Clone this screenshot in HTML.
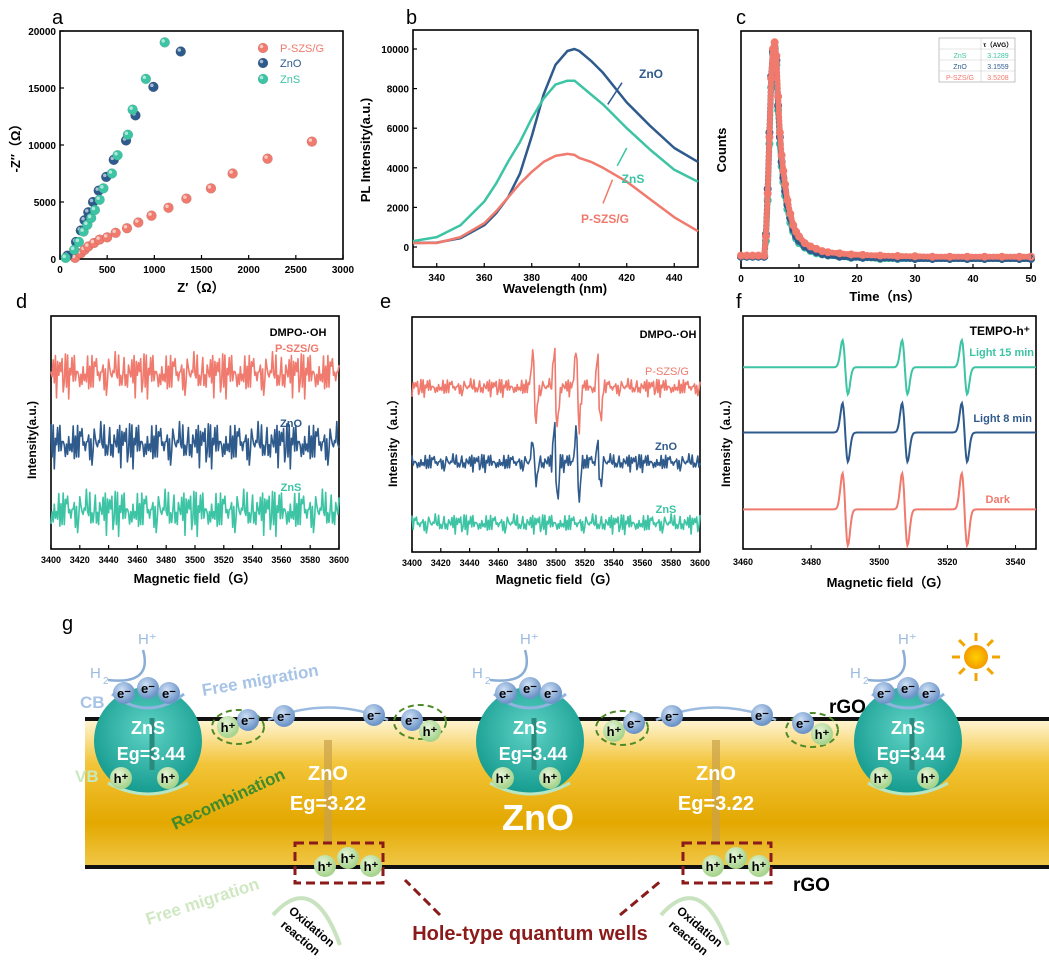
<!DOCTYPE html>
<html><head><meta charset="utf-8"><style>
body{margin:0;background:#fff;}
svg{display:block;font-family:"Liberation Sans",Arial,sans-serif;}
</style></head><body>
<svg id="fig" width="1049" height="968" viewBox="0 0 1049 968">
<defs>
<linearGradient id="gold" x1="0" y1="0" x2="0" y2="1">
<stop offset="0" stop-color="#fff6d8"/><stop offset="0.3" stop-color="#f3c53a"/><stop offset="0.7" stop-color="#e3a800"/><stop offset="1" stop-color="#f1c84a"/></linearGradient>
<radialGradient id="teal" cx="0.5" cy="0.4" r="0.6"><stop offset="0" stop-color="#5fd3c6"/><stop offset="1" stop-color="#149a8e"/></radialGradient>
<radialGradient id="sun" cx="0.5" cy="0.5" r="0.5"><stop offset="0" stop-color="#ffd000"/><stop offset="1" stop-color="#f29b00"/></radialGradient>
<radialGradient id="bp" cx="0.4" cy="0.35" r="0.6"><stop offset="0" stop-color="#cfe0f5"/><stop offset="1" stop-color="#6d95c8"/></radialGradient>
<radialGradient id="gp" cx="0.4" cy="0.35" r="0.6"><stop offset="0" stop-color="#e6f5d9"/><stop offset="1" stop-color="#a8d48e"/></radialGradient>
</defs>
<g id="charts"></g>
<g id="schematic"></g>
</svg>
<script>
// ---------- data ----------
const eisZnSX=[60,150,200,250,290,330,370,420,460,550,610,720,770,910,1110];
const eisZnSY=[100,800,1500,2400,3000,3600,4300,5200,6200,7500,9100,10900,13100,15800,19000];
const eisZnOX=[80,170,220,260,300,350,410,490,570,700,800,990,1280];
const eisZnOY=[300,1500,2500,3400,4100,5000,6000,7200,8700,10400,12600,15100,18200];
const eisPX=[160,220,260,300,360,420,500,590,710,830,970,1150,1340,1600,1830,2200,2670];
const eisPY=[100,500,800,1100,1400,1700,1900,2300,2700,3200,3800,4500,5300,6200,7500,8800,10300];
const plWl=[330,340,350,360,365,370,375,380,385,390,395,398,400,405,410,420,430,440,450];
const plZnO=[200,220,450,1100,1700,2500,3700,5600,7700,9200,9900,10000,9900,9400,8800,7300,6100,5000,4300];
const plZnS=[300,500,1100,2300,3200,4300,5300,6500,7500,8200,8400,8400,8200,7700,7200,6000,4900,3900,3300];
const plP=[200,200,500,1200,1800,2500,3200,3800,4300,4600,4700,4650,4500,4300,4000,3300,2400,1500,800];
const trT=[0,1,2,3,4,4.3,4.6,4.9,5.2,5.5,5.8,6.1,6.4,6.7,7,7.3,7.6,8,8.5,9,9.5,10,11,12,13,14,15,17,19,21,24,27,30,33,36,39,42,45,48,50];
const trZnS=[0.05,0.05,0.05,0.05,0.05,0.12,0.3,0.55,0.8,0.95,0.98,0.9,0.7,0.55,0.45,0.38,0.32,0.26,0.2,0.16,0.13,0.11,0.09,0.075,0.065,0.06,0.055,0.05,0.045,0.045,0.04,0.04,0.04,0.04,0.04,0.04,0.04,0.04,0.04,0.04];
const trZnO=[0.05,0.05,0.05,0.05,0.05,0.15,0.35,0.6,0.85,0.96,0.97,0.92,0.72,0.58,0.47,0.4,0.34,0.28,0.22,0.17,0.14,0.12,0.095,0.08,0.07,0.062,0.057,0.05,0.047,0.045,0.043,0.042,0.04,0.04,0.04,0.04,0.04,0.04,0.04,0.04];
const trP=[0.055,0.055,0.055,0.055,0.055,0.14,0.33,0.58,0.84,0.97,1.0,0.94,0.76,0.6,0.5,0.43,0.37,0.3,0.24,0.19,0.16,0.14,0.11,0.095,0.085,0.075,0.07,0.065,0.06,0.058,0.055,0.053,0.052,0.05,0.05,0.05,0.05,0.05,0.05,0.05];
const noise=[3,-5,7,-2,9,-8,4,-6,10,-3,5,-9,2,8,-4,6,-10,3,-7,9,-1,5,-8,7,-5,2,-9,6,-3,10,-6,4,-2,8,-7,3,-4,9,-10,5,-1,7,-6,2,-8,6,-3,9,-5,4,-9,1,8,-2,6,-7,3,-5,10,-4,-3,6,-1,4,-8,2,7,-5,1,-6,9];
const dBase=[75,45,16];
const dNames=["P-SZS/G","ZnO","ZnS"];
const eBase=[70,38,12];
const ePeaksG=[3485,3500,3515,3530];
const ePAmp=[17,19,19,16];
const eOAmp=[9,17,17,9];
const fBase=[78,50,17];
const fPeaksG=[3490,3507.5,3525];
const fAmp=[12,13,16];
const fNames=["Light 15 min","Light 8 min","Dark"];
const RED="#ef7a6d",BLUE="#2f5a8c",TEAL="#3dc4a4";

const NS="http://www.w3.org/2000/svg";
const root=document.getElementById('charts');
function mk(tag,attrs,parent,text){const e=document.createElementNS(NS,tag);for(const k in attrs)e.setAttribute(k,attrs[k]);if(text!==undefined)e.textContent=text;(parent||root).appendChild(e);return e;}
function lin(d0,d1,r0,r1){return v=>r0+(v-d0)/(d1-d0)*(r1-r0);}
function frame(x0,y0,x1,y1,name){const r=mk('rect',{x:x0,y:y0,width:x1-x0,height:y1-y0,fill:'none',stroke:'#000','stroke-width':1.6});}
function xticks(sx,vals,y,lab,fs){vals.forEach(v=>{mk('line',{x1:sx(v),x2:sx(v),y1:y,y2:y-4,stroke:'#000','stroke-width':1.2});if(lab){const t=mk('text',{x:sx(v),y:y+14,'font-size':fs||10,'font-weight':'bold','text-anchor':'middle'},root,v);}});}
function yticks(sy,vals,x){vals.forEach(v=>{mk('line',{x1:x,x2:x+4,y1:sy(v),y2:sy(v),stroke:'#000','stroke-width':1.2});const t=mk('text',{x:x-4,y:sy(v)+4,'font-size':10,'font-weight':'bold','text-anchor':'end'},root,v);});}
function label(x,y,s,txt,name,extra){const a=Object.assign({x:x,y:y,'font-size':s,'text-anchor':'middle','font-weight':'bold'},extra||{});const t=mk('text',a,root,txt);return t;}
function panelLetter(x,y,l){const t=mk('text',{x:x,y:y,'font-size':20},root,l);}
function ball(cx,cy,col,r){mk('circle',{cx:cx,cy:cy,r:r||5,fill:col,stroke:'rgba(0,0,0,0.15)','stroke-width':0.5});mk('circle',{cx:cx-1.5,cy:cy-1.5,r:(r||5)*0.35,fill:'rgba(255,255,255,0.6)'});}

// ---------- panel a ----------
(function(){const sx=lin(0,3000,60,343),sy=lin(0,20000,259,31);
panelLetter(52,24,'a');frame(60,31,343,259,'plot-a-frame');
xticks(sx,[0,500,1000,1500,2000,2500,3000],259,true);yticks(sy,[0,5000,10000,15000,20000],60);
label(201,292,13,"Z′（Ω）",'x-axis-title-a');
label(20,145,13,"-Z′′（Ω）",'y-axis-title-a',{transform:'rotate(-90 20 145)'});
eisPX.forEach((v,i)=>ball(sx(v),sy(eisPY[i]),RED));
eisZnOX.forEach((v,i)=>ball(sx(v),sy(eisZnOY[i]),BLUE));
eisZnSX.forEach((v,i)=>ball(sx(v),sy(eisZnSY[i]),TEAL));
[["P-SZS/G",RED,52],["ZnO",BLUE,67],["ZnS",TEAL,83]].forEach(l=>{ball(263,l[2]-4,l[1]);const t=mk('text',{x:280,y:l[2],'font-size':11,fill:l[1]},root,l[0]);});
})();

// ---------- panel b ----------
(function(){const sx=lin(330,450,413,698),sy=lin(0,10000,247,49);
panelLetter(406,24,'b');frame(413,30,698,267,'plot-b-frame');
xticks(sx,[340,360,380,400,420,440],267,true);yticks(sy,[0,2000,4000,6000,8000,10000],413);
label(555,293,13,"Wavelength (nm)",'x-axis-title-b');
label(370,150,13,"PL Intensity(a.u.)",'y-axis-title-b',{transform:'rotate(-90 370 150)'});
function curve(vals,col,n){const p=mk('path',{d:vals.map((v,i)=>(i?'L':'M')+sx(plWl[i]).toFixed(1)+','+sy(v).toFixed(1)).join(''),fill:'none',stroke:col,'stroke-width':2.5,'stroke-linejoin':'round'});}
curve(plZnO,BLUE,'zno');curve(plZnS,TEAL,'zns');curve(plP,RED,'psz');
mk('line',{x1:sx(412),y1:sy(7200),x2:sx(418),y2:sy(8300),stroke:BLUE,'stroke-width':1.5});label(651,78,12,"ZnO",'label-zno-b',{fill:BLUE});
mk('line',{x1:sx(420),y1:sy(5000),x2:sx(416),y2:sy(4100),stroke:TEAL,'stroke-width':1.5});label(633,183,12,"ZnS",'label-zns-b',{fill:TEAL});
mk('line',{x1:sx(414),y1:sy(3400),x2:sx(410),y2:sy(2200),stroke:RED,'stroke-width':1.5});label(605,223,12,"P-SZS/G",'label-p-b',{fill:RED});
})();

// ---------- panel c ----------
(function(){const sx=lin(0,50,741,1031),sy=lin(0,1.05,268,31);
panelLetter(736,24,'c');frame(741,31,1031,268,'plot-c-frame');
xticks(sx,[0,10,20,30,40,50],268,true);
label(726,150,13,"Counts",'y-axis-title-c',{transform:'rotate(-90 726 150)'});
label(885,301,13,"Time（ns）",'x-axis-title-c');
[[trZnS,TEAL],[trZnO,BLUE],[trP,RED]].forEach(s=>{s[0].forEach((v,i)=>{mk('circle',{cx:sx(trT[i]),cy:sy(v),r:3,fill:'none',stroke:s[1],'stroke-width':2});});
for(let i=0;i<trT.length-1;i++){mk('line',{x1:sx(trT[i]),y1:sy(s[0][i]),x2:sx(trT[i+1]),y2:sy(s[0][i+1]),stroke:s[1],'stroke-width':6,'stroke-dasharray':'1 3','stroke-linecap':'round'});}});
const tb=mk('g',{});
mk('rect',{x:939,y:38,width:76,height:44,fill:'#fff',stroke:'#aaa','stroke-width':0.7},tb);
[49,60,71].forEach(y=>mk('line',{x1:939,x2:1015,y1:y,y2:y,stroke:'#ccc','stroke-width':0.6},tb));
mk('line',{x1:981,x2:981,y1:38,y2:82,stroke:'#ccc','stroke-width':0.6},tb);
mk('text',{x:998,y:47,'font-size':6.5,'text-anchor':'middle','font-weight':'bold'},tb,"τ（AVG）");
[["ZnS","3.1289",TEAL,58],["ZnO","3.1559",BLUE,69],["P-SZS/G","3.5208",RED,80]].forEach(r=>{mk('text',{x:960,y:r[3],'font-size':7,'text-anchor':'middle',fill:r[2]},tb,r[0]);mk('text',{x:998,y:r[3],'font-size':7,'text-anchor':'middle',fill:r[2]},tb,r[1]);});
})();

// ---------- noisy EPR helper ----------
function noisy(sx,sy,g0,g1,base,amp,col,name,peaks,shift){let d='';const n=260;const L=noise.length;for(let i=0;i<=n;i++){const g=g0+(g1-g0)*i/n;const k=i+(shift||0);let v=base+(noise[k%L]*0.6+noise[(k*7+3)%L]*0.4)*amp;if(peaks)peaks.forEach(pk=>{const dx=g-pk.g;if(Math.abs(dx)<3)v+=pk.a*(dx<0?1:-1)*Math.max(0,1-Math.abs(Math.abs(dx)-1)/2);});d+=(i?'L':'M')+sx(g).toFixed(1)+','+sy(v).toFixed(1);}
const p=mk('path',{d:d,fill:'none',stroke:col,'stroke-width':1.6,'stroke-linejoin':'round'});}
const eprTicks=[3400,3420,3440,3460,3480,3500,3520,3540,3560,3580,3600];

// ---------- panel d ----------
(function(){const sx=lin(3400,3600,51,339),sy=lin(0,100,549,316);
panelLetter(16,308,'d');frame(51,316,339,549,'plot-d-frame');
xticks(sx,eprTicks,549,true,9);
label(195,583,13,"Magnetic field（G）",'x-axis-title-d');
label(36,440,12,"Intensity(a.u.)",'y-axis-title-d',{transform:'rotate(-90 36 440)'});
label(298,336,11,"DMPO-·OH",'annotation-d');
[RED,BLUE,TEAL].forEach((c,i)=>noisy(sx,sy,3400,3600,dBase[i],1.15,c,'epr-d-'+dNames[i],null,i*13));
label(297,352,11,"P-SZS/G",'label-p-d',{fill:RED});
label(291,427,11,"ZnO",'label-zno-d',{fill:BLUE});
label(291,491,11,"ZnS",'label-zns-d',{fill:TEAL});
})();

// ---------- panel e ----------
(function(){const sx=lin(3400,3600,412,700),sy=lin(0,100,552,317);
panelLetter(380,308,'e');frame(412,317,700,552,'plot-e-frame');
xticks(sx,eprTicks,552,true,9);
label(557,584,13,"Magnetic field（G）",'x-axis-title-e');
label(397,440,12,"Intensity（a.u.）",'y-axis-title-e',{transform:'rotate(-90 397 440)'});
label(668,338,11,"DMPO-·OH",'annotation-e');
noisy(sx,sy,3400,3600,eBase[0],0.45,RED,'epr-e-p',ePeaksG.map((g,i)=>({g:g,a:ePAmp[i]})),5);
noisy(sx,sy,3400,3600,eBase[1],0.45,BLUE,'epr-e-zno',ePeaksG.map((g,i)=>({g:g,a:eOAmp[i]})),21);
noisy(sx,sy,3400,3600,eBase[2],0.5,TEAL,'epr-e-zns',null,37);
label(667,375,11,"P-SZS/G",'label-p-e',{fill:RED,'font-weight':'normal'});
label(666,450,11,"ZnO",'label-zno-e',{fill:BLUE});
label(666,513,11,"ZnS",'label-zns-e',{fill:TEAL});
})();

// ---------- panel f ----------
(function(){const sx=lin(3460,3546,743,1036),sy=lin(0,100,549,316);
panelLetter(736,308,'f');frame(743,316,1036,549,'plot-f-frame');
[3460,3480,3500,3520,3540].forEach(v=>{mk('line',{x1:sx(v),x2:sx(v),y1:549,y2:545,stroke:'#000'});const t=mk('text',{x:sx(v),y:565,'font-size':9,'font-weight':'bold','text-anchor':'middle'},root,v);});
label(888,587,13,"Magnetic field（G）",'x-axis-title-f');
label(730,440,12,"Intensity（a.u.）",'y-axis-title-f',{transform:'rotate(-90 730 440)'});
label(1030,335,12,"TEMPO-h⁺",'annotation-f',{'text-anchor':'end'});
[TEAL,BLUE,RED].forEach((c,i)=>{let d='';for(let k=0;k<=344;k++){const g=3460+k*0.25;let v=fBase[i];fPeaksG.forEach(pk=>{const x=(g-pk)/0.8;v+=fAmp[i]*(-x*Math.exp(-x*x/2))*1.6;});d+=(k?'L':'M')+sx(g).toFixed(1)+','+sy(v).toFixed(1);}const p=mk('path',{d:d,fill:'none',stroke:c,'stroke-width':2});
label([1034,1032,1010][i],[356,422,503][i],11,fNames[i],'label-f',{fill:c,'text-anchor':'end'});});
})();

// ---------- schematic g ----------
(function(){const g=document.getElementById('schematic');
function el(tag,a,txt){return mk(tag,a,g,txt);}
el('text',{x:62,y:630,'font-size':20},'g');
el('rect',{x:85,y:719,width:964,height:148,fill:'url(#gold)'});
el('line',{x1:85,x2:1049,y1:719,y2:719,stroke:'#111','stroke-width':4});
el('line',{x1:85,x2:1049,y1:867,y2:867,stroke:'#111','stroke-width':4});
el('text',{x:829,y:713,'font-size':19,'font-weight':'bold'},'rGO');
el('text',{x:793,y:891,'font-size':19,'font-weight':'bold'},'rGO');
el('text',{x:538,y:830,'font-size':36,'font-weight':'bold',fill:'#fff','text-anchor':'middle'},'ZnO');
const sg=el('g',{});
for(let i=0;i<8;i++){const a=i*Math.PI/4;mk('line',{x1:976+Math.cos(a)*16,y1:657+Math.sin(a)*16,x2:976+Math.cos(a)*24,y2:657+Math.sin(a)*24,stroke:'#f0a500','stroke-width':3},sg);}
mk('circle',{cx:976,cy:657,r:12,fill:'url(#sun)'},sg);
function pe(x,y,t,grad,r){el('circle',{cx:x,cy:y,r:r||11,fill:grad});el('text',{x:x,y:y+5,'font-size':13,'font-weight':'bold','text-anchor':'middle'},t);}
[148,530,908].forEach((cx,k)=>{
el('circle',{cx:cx,cy:741,r:54,fill:'url(#teal)'});
el('path',{d:`M${cx-36},${694} Q${cx},${722} ${cx+36},${694}`,fill:'none',stroke:'#8fb5de','stroke-width':3});
el('path',{d:`M${cx-40},${783} Q${cx},${805} ${cx+40},${783}`,fill:'none',stroke:'#b8e5c4','stroke-width':3});
el('line',{x1:cx+4,y1:770,x2:cx+4,y2:718,stroke:'#2a8a7e','stroke-width':5});
el('text',{x:cx,y:734,'font-size':18,'font-weight':'bold',fill:'#fff','text-anchor':'middle'},'ZnS');
el('text',{x:cx+3,y:760,'font-size':18,'font-weight':'bold',fill:'#fff','text-anchor':'middle'},'Eg=3.44');
pe(cx-24,693,'e⁻','url(#bp)');pe(cx,688,'e⁻','url(#bp)');pe(cx+21,693,'e⁻','url(#bp)');
pe(cx-27,778,'h⁺','url(#gp)');pe(cx+20,778,'h⁺','url(#gp)');
el('text',{x:cx-58,y:678,'font-size':15,fill:'#9bbbe0'},'H');el('text',{x:cx-45,y:684,'font-size':10,fill:'#9bbbe0'},'2');
el('text',{x:cx-10,y:644,'font-size':15,fill:'#9bbbe0'},'H⁺');
el('path',{d:`M${cx-5},${650} Q${cx+5},${685} ${cx-40},${680}`,fill:'none',stroke:'#8aaed6','stroke-width':2.5});
});
el('text',{x:80,y:708,'font-size':17,'font-weight':'bold',fill:'#a7c4e6'},'CB');
el('text',{x:75,y:782,'font-size':17,'font-weight':'bold',fill:'#c8e8c0'},'VB');
el('text',{x:203,y:696,'font-size':17,'font-weight':'bold',fill:'#a7c4e6',transform:'rotate(-10 203 696)'},'Free migration');
el('text',{x:175,y:830,'font-size':17,'font-weight':'bold',fill:'#3f8a2a',transform:'rotate(-25 175 830)'},'Recombination');
el('text',{x:148,y:925,'font-size':17,'font-weight':'bold',fill:'#cfe8c2',transform:'rotate(-18 148 925)'},'Free migration');
[328,716].forEach(cx=>{
el('line',{x1:cx,y1:842,x2:cx,y2:740,stroke:'#caa24a','stroke-width':8,opacity:0.7});
el('path',{d:`M${cx-60},${720} Q${cx},${695} ${cx+60},${720}`,fill:'none',stroke:'#9bbbe0','stroke-width':2.5});
pe(cx-44,716,'e⁻','url(#bp)');pe(cx+46,715,'e⁻','url(#bp)');
el('text',{x:cx,y:780,'font-size':20,'font-weight':'bold',fill:'#fff','text-anchor':'middle'},'ZnO');
el('text',{x:cx,y:810,'font-size':20,'font-weight':'bold',fill:'#fff','text-anchor':'middle'},'Eg=3.22');
const qw=el('rect',{x:cx-33,y:843,width:88,height:40,fill:'none',stroke:'#8b1a1a','stroke-width':3,'stroke-dasharray':'9 5'});
pe(cx-3,866,'h⁺','url(#gp)');pe(cx+20,858,'h⁺','url(#gp)');pe(cx+43,866,'h⁺','url(#gp)');
el('text',{x:cx-40,y:912,'font-size':12,'font-weight':'bold',transform:`rotate(40 ${cx-40} 912)`},'Oxidation');
el('text',{x:cx-48,y:926,'font-size':12,'font-weight':'bold',transform:`rotate(40 ${cx-48} 926)`},'reaction');
el('path',{d:`M${cx-55},${915} Q${cx-15},${870} ${cx+12},${945}`,fill:'none',stroke:'#c9e3c0','stroke-width':4});
});
[[238,727],[420,722],[622,728],[812,730]].forEach(p=>{el('ellipse',{cx:p[0],cy:p[1],rx:26,ry:17,fill:'none',stroke:'#4f8a2a','stroke-width':2,'stroke-dasharray':'6 4'});});
pe(228,727,'h⁺','url(#gp)');pe(248,720,'e⁻','url(#bp)');
pe(412,720,'e⁻','url(#bp)');pe(430,731,'h⁺','url(#gp)');
pe(614,731,'h⁺','url(#gp)');pe(634,723,'e⁻','url(#bp)');
pe(803,723,'e⁻','url(#bp)');pe(822,734,'h⁺','url(#gp)');
el('text',{x:530,y:940,'font-size':20,'font-weight':'bold',fill:'#8b1a1a','text-anchor':'middle'},'Hole-type quantum wells');
el('line',{x1:440,y1:915,x2:405,y2:880,stroke:'#8b1a1a','stroke-width':3,'stroke-dasharray':'9 5'});
el('line',{x1:620,y1:915,x2:662,y2:880,stroke:'#8b1a1a','stroke-width':3,'stroke-dasharray':'9 5'});
})();
</script>
</body></html>
